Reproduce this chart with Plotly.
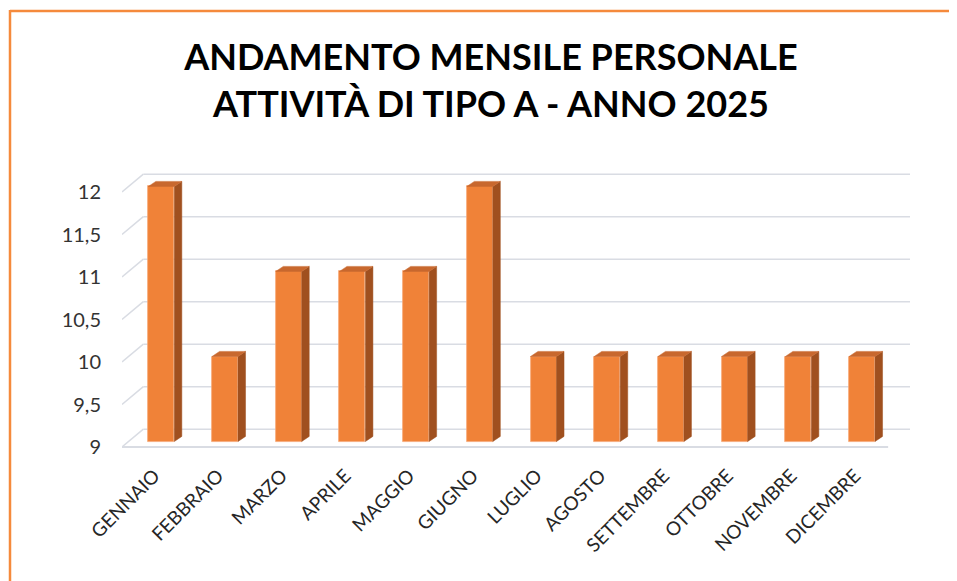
import plotly.graph_objects as go

months = ["GENNAIO", "FEBBRAIO", "MARZO", "APRILE", "MAGGIO", "GIUGNO",
          "LUGLIO", "AGOSTO", "SETTEMBRE", "OTTOBRE", "NOVEMBRE", "DICEMBRE"]
values = [12, 10, 11, 11, 11, 12, 10, 10, 10, 10, 10, 10]
y_ticks = [9, 9.5, 10, 10.5, 11, 11.5, 12]

title_text = "ANDAMENTO MENSILE PERSONALE<br>ATTIVITÀ DI TIPO A - ANNO 2025"

# 3D geometry (data units)
Y_BASE = 9
X_MIN, X_MAX = -0.507, 11.863
Y_MIN, Y_MAX = 8.965, 12.259
WALL_DX, WALL_DY = 0.335, 0.21      # depth of floor/back wall
FLOOR_RIGHT = 11.52
BAR_DX, BAR_DY = 0.11, 0.065        # bar front plane offset
BAR_W = 0.408
SIDE_DX, SIDE_DY = 0.118, 0.06

FRONT = "#F08238"
SIDE = "#A0501F"
TOP = "#C8682E"
GRID = "#D9DCE3"

fig = go.Figure()

xs = [i + BAR_DX for i in range(len(months))]

# front faces
fig.add_trace(go.Bar(
    x=xs, y=[v - Y_BASE for v in values], base=Y_BASE + BAR_DY,
    width=BAR_W, marker=dict(color=FRONT, line=dict(color="#F6A877", width=0.8)),
    hoverinfo="skip", showlegend=False))

# side and top faces
for x, v in zip(xs, values):
    xl, xr = x - BAR_W / 2, x + BAR_W / 2
    b, t = Y_BASE + BAR_DY, v + BAR_DY
    fig.add_trace(go.Scatter(
        x=[xr, xr + SIDE_DX, xr + SIDE_DX, xr, xr],
        y=[b, b + SIDE_DY, t + SIDE_DY, t, b],
        fill="toself", fillcolor=SIDE, mode="lines",
        line=dict(color=SIDE, width=0.5), hoverinfo="skip", showlegend=False))
    fig.add_trace(go.Scatter(
        x=[xl, xl + SIDE_DX, xr + SIDE_DX, xr, xl],
        y=[t, t + SIDE_DY, t + SIDE_DY, t, t],
        fill="toself", fillcolor=TOP, mode="lines",
        line=dict(color=TOP, width=0.5), hoverinfo="skip", showlegend=False))

shapes = []
for lv in y_ticks:
    shapes.append(dict(type="line", xref="x", yref="y", x0=X_MIN, y0=lv,
                       x1=X_MIN + WALL_DX, y1=lv + WALL_DY,
                       line=dict(color=GRID, width=1.5), layer="below"))
    shapes.append(dict(type="line", xref="x", yref="y", x0=X_MIN + WALL_DX, y0=lv + WALL_DY,
                       x1=X_MAX, y1=lv + WALL_DY,
                       line=dict(color=GRID, width=1.5), layer="below"))
# floor front edge
shapes.append(dict(type="line", xref="x", yref="y", x0=X_MIN, y0=Y_BASE,
                   x1=FLOOR_RIGHT, y1=Y_BASE, line=dict(color=GRID, width=2), layer="below"))

# chart border (top and left); page body has an 8px margin
PLOT_H = 581 - 162 - 139
PLOT_W = 957 - 114 - 55
bx = (2 - 114) / PLOT_W
by = (442 - 3) / PLOT_H
shapes.append(dict(type="line", xref="paper", yref="paper", x0=bx, y0=by,
                   x1=1.2, y1=by, line=dict(color="#F58A3C", width=2.5)))
shapes.append(dict(type="line", xref="paper", yref="paper", x0=bx, y0=by + 0.004,
                   x1=bx, y1=-0.6, line=dict(color="#F58A3C", width=2.5)))

fig.update_layout(
    width=957, height=581,
    margin=dict(l=114, r=55, t=162, b=139),
    paper_bgcolor="white", plot_bgcolor="white",
    separators=",.",
    shapes=shapes,
    bargap=0,
    title=dict(text=title_text, x=(491 - 8) / 957, xref="container", xanchor="center",
               y=1 - 62 / 581, yref="container", yanchor="top",
               font=dict(family="Lato", size=36, color="#000000", weight="bold")),
    xaxis=dict(range=[X_MIN, X_MAX], tickvals=list(range(len(months))), ticktext=months,
               tickangle=-45, showgrid=False, zeroline=False, showline=False, ticks="",
               ticklabelstandoff=10,
               tickfont=dict(family="Lato", size=19, color="#262626")),
    yaxis=dict(range=[Y_MIN, Y_MAX], tickvals=y_ticks, showgrid=False, zeroline=False,
               showline=False, ticks="", ticklabelstandoff=20,
               tickfont=dict(family="Lato", size=20, color="#333333")),
)

fig.write_html("out.html")
